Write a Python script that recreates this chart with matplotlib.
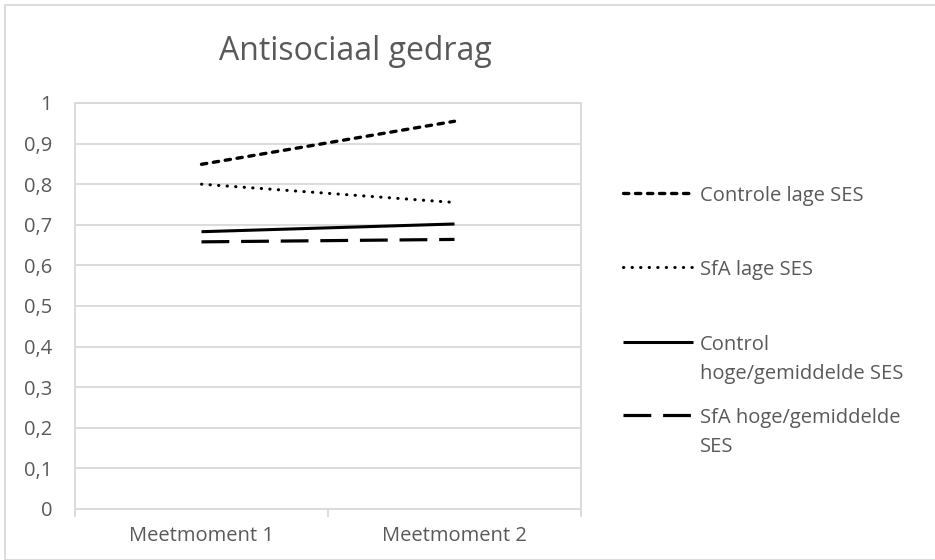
import matplotlib
matplotlib.use("Agg")
import matplotlib.pyplot as plt
from matplotlib.patches import Rectangle
from matplotlib.lines import Line2D

categories = ["Meetmoment 1", "Meetmoment 2"]
controle_lage = [0.849, 0.955]
sfa_lage = [0.800, 0.755]
control_hoge = [0.683, 0.702]
sfa_hoge = [0.658, 0.664]
labels = ["Controle lage SES", "SfA lage SES", "Control\nhoge/gemiddelde SES", "SfA hoge/gemiddelde\nSES"]
yticks = [0, 0.1, 0.2, 0.3, 0.4, 0.5, 0.6, 0.7, 0.8, 0.9, 1.0]
ytick_labels = ["0", "0,1", "0,2", "0,3", "0,4", "0,5", "0,6", "0,7", "0,8", "0,9", "1"]

plt.rcParams['font.family'] = ['Open Sans', 'DejaVu Sans']
TXT = '#595959'
GRID = '#d9d9d9'
FS = 14.5

W, H = 935, 560
fig = plt.figure(figsize=(W/100, H/100), dpi=100)
fig.patches.append(Rectangle((5/W, 0), 1, 1 - 4.5/H, transform=fig.transFigure,
                             fill=False, edgecolor=GRID, lw=1.3))

L, R, T, B = 75, 581, 103, 509
ax = fig.add_axes([L/W, 1 - B/H, (R-L)/W, (B-T)/H])
x = [1, 2]
series = [controle_lage, sfa_lage, control_hoge, sfa_hoge]
styles = [
    dict(lw=2.4, dashes=(1.6, 2.0), dash_capstyle='round'),
    dict(lw=2.2, dashes=(0.1, 2.7), dash_capstyle='round'),
    dict(lw=2.2, linestyle='-', solid_capstyle='butt'),
    dict(lw=2.3, dashes=(8.7, 3.7), dash_capstyle='butt'),
]
for s, st, lab in zip(series, styles, labels):
    ax.plot(x, s, color='black', label=lab, **st)

ax.set_xlim(0.5, 2.5)
ax.set_ylim(0, 1)
ax.set_yticks(yticks)
ax.set_yticklabels(ytick_labels)
ax.grid(axis='y', color=GRID, lw=1.3)
ax.set_axisbelow(True)
ax.set_xticks(x)
ax.set_xticklabels(categories)
ax.set_xticks([0.5, 1.5, 2.5], minor=True)
ax.tick_params(axis='x', which='major', length=0, pad=12, labelsize=FS, labelcolor=TXT)
ax.tick_params(axis='x', which='minor', length=6, width=1.3, color=GRID)
ax.tick_params(axis='y', length=0, pad=16.5, labelsize=FS, labelcolor=TXT)
for sp in ax.spines.values():
    sp.set_color(GRID)
    sp.set_linewidth(1.3)

fig.text(355/W, 1 - 60/H, "Antisociaal gedrag", ha='center', va='baseline', fontsize=23, color=TXT)

# legend drawn in figure coords
leg_y = [193, 267, 342, 415]
for st, y, lab in zip(styles, leg_y, labels):
    fig.add_artist(Line2D([623/W, 693/W], [1 - y/H, 1 - y/H], transform=fig.transFigure,
                          color='black', **st))
    for i, line in enumerate(lab.split("\n")):
        fig.text(700/W, 1 - (y + i*29)/H, line, ha='left', va='center_baseline',
                 fontsize=FS, color=TXT)

fig.savefig("out.png", dpi=100)
